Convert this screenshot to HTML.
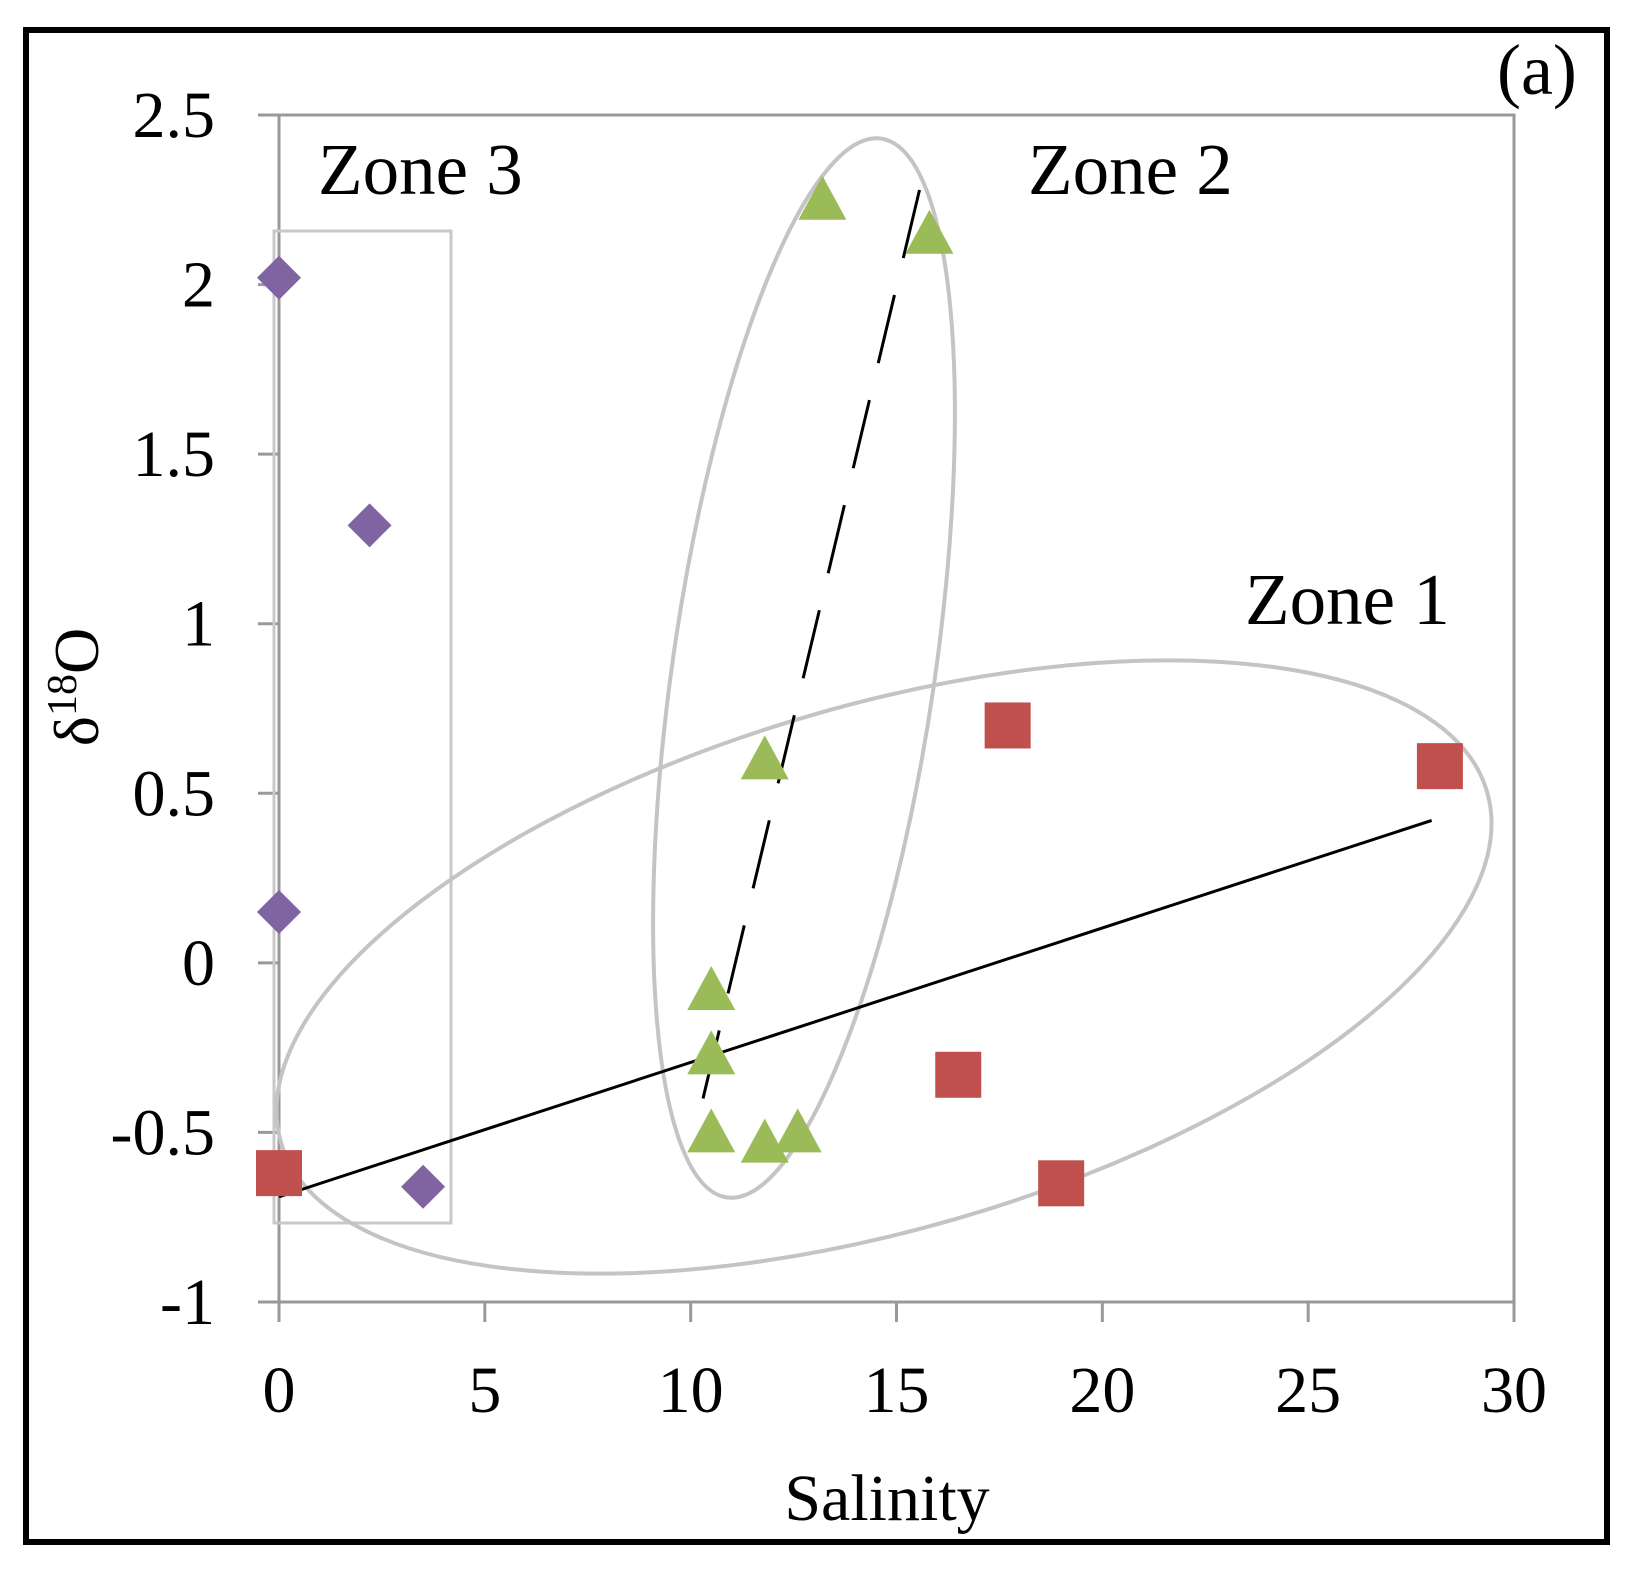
<!DOCTYPE html>
<html><head><meta charset="utf-8"><style>
html,body{margin:0;padding:0;background:#fff}
svg text{font-family:"Liberation Serif",serif;fill:#000}
</style></head><body>
<svg id="chart" width="1636" height="1584" viewBox="0 0 1636 1584" xmlns="http://www.w3.org/2000/svg">
<rect x="26" y="30" width="1581" height="1512" fill="#fff" stroke="#000" stroke-width="6"/>
<rect x="279" y="115" width="1235" height="1187" fill="none" stroke="#999" stroke-width="3"/>
<g id="grid"></g>
<rect x="274" y="231" width="177" height="992" fill="none" stroke="#c8c8c8" stroke-width="3"/>
<g id="marks"></g>
<text x="318" y="194" font-size="73">Zone 3</text>
<text x="1028" y="194" font-size="73">Zone 2</text>
<text x="1245" y="624" font-size="73">Zone 1</text>
<text x="1497" y="94" font-size="72">(a)</text>
<text x="887" y="1520" font-size="66" text-anchor="middle">Salinity</text>
<text transform="translate(98,687) rotate(-90)" font-size="64" text-anchor="middle">δ<tspan font-size="42" dy="-22">18</tspan><tspan dy="22">O</tspan></text>
</svg>
<script>
const xTicks=[0,5,10,15,20,25,30];
const yTicks=[-1,-0.5,0,0.5,1,1.5,2,2.5];
const yTickLabels=["-1","-0.5","0","0.5","1","1.5","2","2.5"];
const zone3X=[0,2.2,0,3.5];
const zone3Y=[2.02,1.29,0.15,-0.66];
const zone1X=[0,17.7,28.2,16.5,19];
const zone1Y=[-0.62,0.7,0.58,-0.33,-0.65];
const zone2X=[13.2,15.8,11.8,10.5,10.5,10.5,11.8,12.6];
const zone2Y=[2.25,2.15,0.6,-0.08,-0.27,-0.5,-0.53,-0.5];
const trend1X=[0,28];
const trend1Y=[-0.69,0.42];
const trend2X=[10.3,15.6];
const trend2Y=[-0.4,2.3];
const NS="http://www.w3.org/2000/svg";
const X=v=>279+(v-0)*(1514-279)/30;
const Y=v=>1302-(v+1)*(1302-115)/3.5;
function mk(tag,attrs,parent){const e=document.createElementNS(NS,tag);for(const k in attrs)e.setAttribute(k,attrs[k]);parent.appendChild(e);return e;}
const grid=document.getElementById('grid');
const marks=document.getElementById('marks');
xTicks.forEach((t,i)=>{
 const l=mk('line',{x1:X(t),x2:X(t),y1:1302,y2:1322,stroke:'#999','stroke-width':3},grid);
 
 
 const tx=mk('text',{x:X(t),y:1412,'font-size':66,'text-anchor':'middle'},grid);
 tx.textContent=String(t);
 
 
});
yTicks.forEach((t,i)=>{
 const l=mk('line',{x1:258,x2:279,y1:Y(t),y2:Y(t),stroke:'#999','stroke-width':3},grid);
 
 
 const tx=mk('text',{x:215,y:Y(t)+22,'font-size':66,'text-anchor':'end'},grid);
 tx.textContent=yTickLabels[i];
 
 
});
const e1=mk('ellipse',{cx:884,cy:967,rx:628,ry:262,transform:'rotate(-16.2 884 967)',fill:'none',stroke:'#c4c4c4','stroke-width':4},marks);


const e2=mk('ellipse',{cx:804,cy:668,rx:131,ry:535,transform:'rotate(8.3 804 668)',fill:'none',stroke:'#c4c4c4','stroke-width':4},marks);


const t1=mk('line',{x1:X(trend1X[0]),y1:Y(trend1Y[0]),x2:X(trend1X[1]),y2:Y(trend1Y[1]),stroke:'#000','stroke-width':3},marks);


const t2=mk('line',{x1:X(trend2X[0]),y1:Y(trend2Y[0]),x2:X(trend2X[1]),y2:Y(trend2Y[1]),stroke:'#000','stroke-width':3,'stroke-dasharray':'70,38'},marks);


zone3X.forEach((v,i)=>{
 const x=X(v),y=Y(zone3Y[i]),s=22;
 const p=mk('polygon',{points:`${x},${y-s} ${x+s},${y} ${x},${y+s} ${x-s},${y}`,fill:'#8064A2'},marks);
 
 
});
zone1X.forEach((v,i)=>{
 const x=X(v),y=Y(zone1Y[i]),s=23;
 const p=mk('rect',{x:x-s,y:y-s,width:2*s,height:2*s,fill:'#C0504D'},marks);
 
 
});
zone2X.forEach((v,i)=>{
 const x=X(v),y=Y(zone2Y[i]);
 const p=mk('polygon',{points:`${x},${y-24} ${x+24},${y+20} ${x-24},${y+20}`,fill:'#9BBB59'},marks);
 
 
});
</script>
</body></html>
